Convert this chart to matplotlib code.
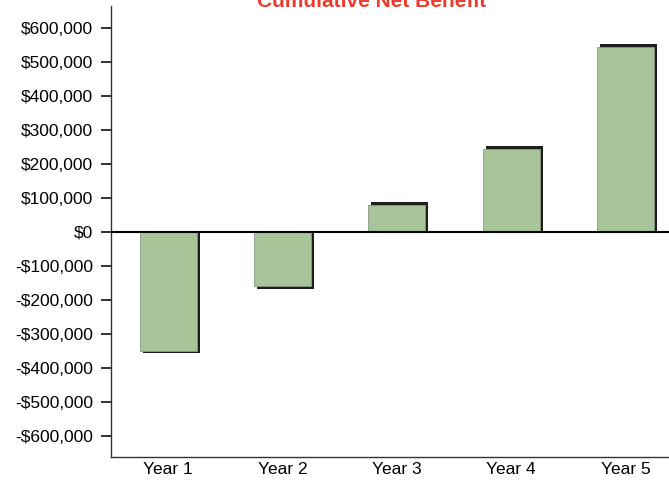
import numpy as np
import matplotlib.pyplot as plt
from matplotlib import rcParams
from matplotlib.ticker import FuncFormatter

# ------------------------------------------------------------ data
years    = ["Year 1", "Year 2", "Year 3", "Year 4", "Year 5"]
benefit  = [-350000, -160000, 80000, 245000, 545000]
yticks   = np.arange(-600000, 600001, 100000)

TITLE    = "Cumulative Net Benefit"
GREEN    = "#a8c59a"
SHADOW   = "#1e1e1e"
RED      = "#ee3a2c"

rcParams["font.family"] = ["Liberation Sans Narrow", "Liberation Sans", "DejaVu Sans"]


def money(v, _pos):
    v = int(round(v))
    return f"-${abs(v):,}" if v < 0 else f"${v:,}"


fig = plt.figure(figsize=(6.69, 4.82), dpi=100)
ax = fig.add_axes([0.166, 0.052, 0.834, 0.9355])

x = np.arange(len(years))
vals = np.array(benefit, dtype=float)

# drop shadow: slightly right and slightly longer than the bar
ax.bar(x + 0.026, vals + np.sign(vals) * 7500, width=0.5, color=SHADOW,
       zorder=2, linewidth=0)
ax.bar(x, vals, width=0.5, color=GREEN, edgecolor="#8a9a85",
       linewidth=0.6, zorder=3)

ax.axhline(0, color="black", lw=1.5, zorder=4)

ax.set_xlim(-0.5, 4.38)
ax.set_ylim(-662000, 665000)
ax.set_yticks(yticks)
ax.yaxis.set_major_formatter(FuncFormatter(money))
ax.set_xticks(x)
ax.set_xticklabels(years)

ax.tick_params(axis="y", length=7, width=1.3, color="#222222",
               labelsize=12.5, pad=6, direction="out")
ax.tick_params(axis="x", length=0, labelsize=12.5, pad=4)

for s in ("top", "right"):
    ax.spines[s].set_visible(False)
for s in ("left", "bottom"):
    ax.spines[s].set_color("#333333")
    ax.spines[s].set_linewidth(1.0)

# title is partly cut by the top edge, as in the source image
fig.text(0.555, 0.996, TITLE, color=RED, fontsize=15, fontweight="bold",
         ha="center", va="center")

fig.savefig("out.png", dpi=100)
